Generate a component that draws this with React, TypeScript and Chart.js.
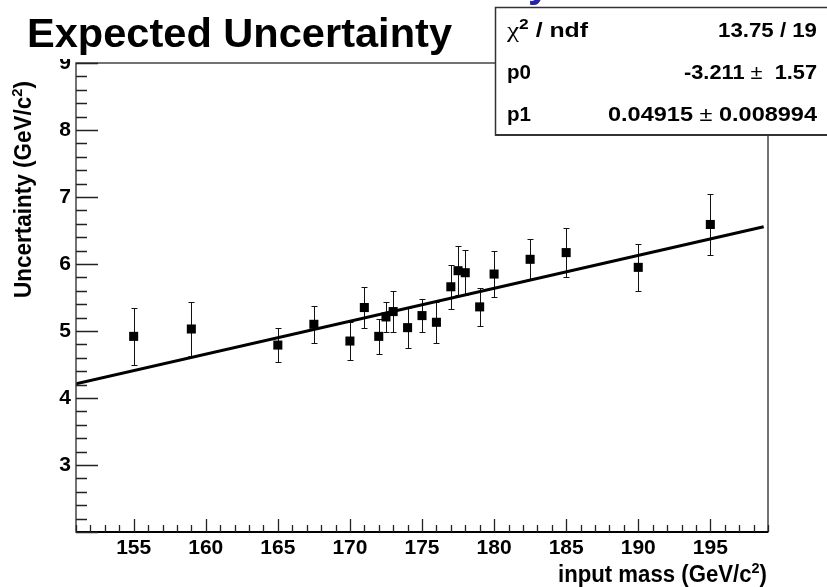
import React, { useEffect, useRef } from 'react';
import { Chart, registerables } from 'chart.js';

Chart.register(...registerables);

// ---- data ----
const masses = [155, 159, 165, 167.5, 170, 171, 172, 172.5, 173, 174, 175, 176, 177, 177.5, 178, 179, 180, 182.5, 185, 190, 195];
const uncertainties = [4.92, 5.03, 4.79, 5.10, 4.85, 5.35, 4.92, 5.21, 5.29, 5.05, 5.23, 5.13, 5.66, 5.90, 5.87, 5.36, 5.85, 6.07, 6.17, 5.95, 6.59];
const errors = [0.43, 0.41, 0.26, 0.28, 0.28, 0.30, 0.26, 0.22, 0.31, 0.30, 0.25, 0.31, 0.33, 0.37, 0.34, 0.28, 0.34, 0.30, 0.36, 0.35, 0.45];

const fitP0 = -3.211;
const fitP1 = 0.04915;
const fitRange = [151, 198.7];

const xRange = [151, 199];
const yRange = [2, 9];
const xTickValues = [155, 160, 165, 170, 175, 180, 185, 190, 195];
const yTickValues = [3, 4, 5, 6, 7, 8, 9];

const titleText = 'Expected Uncertainty';
const xTitleMain = 'input mass (GeV/c';
const yTitleMain = 'Uncertainty (GeV/c';
const unitTail = ')';
const superTwo = '2';
const statsLabels = ['p0', 'p1'];
const chiLabel = ['\u03C7', '2', ' / ndf'];
const statsValues = ['13.75 / 19', ['-3.211 ', '\u00B1', '  1.57'], ['0.04915 ', '\u00B1', ' 0.008994']];

const FONT = "'Liberation Sans', Arial, Helvetica, sans-serif";
const SERIF = "'Liberation Serif', 'DejaVu Serif', serif";

type Seg = { t: string; size: number; weight?: string; family?: string; dy?: number };

function drawRich(
  ctx: CanvasRenderingContext2D,
  segs: Seg[],
  x: number,
  y: number,
  width: number | null,
  align: 'left' | 'right',
  rotate = 0
) {
  ctx.save();
  const fontOf = (s: Seg) => `${s.weight ?? 'bold'} ${s.size}px ${s.family ?? FONT}`;
  const widths = segs.map((s) => {
    ctx.font = fontOf(s);
    return ctx.measureText(s.t).width;
  });
  const total = widths.reduce((a, b) => a + b, 0);
  const sx = width ? width / total : 1;
  ctx.translate(x, y);
  if (rotate) ctx.rotate(rotate);
  ctx.scale(sx, 1);
  ctx.textAlign = 'left';
  ctx.textBaseline = 'alphabetic';
  let cx = align === 'right' ? -total : 0;
  segs.forEach((s, i) => {
    ctx.font = fontOf(s);
    ctx.fillText(s.t, cx, s.dy ?? 0);
    cx += widths[i];
  });
  ctx.restore();
}

const errorBarPlugin = {
  id: 'errorBars',
  beforeDatasetsDraw(chart: any) {
    const { ctx, scales } = chart;
    const xs = scales.x;
    const ys = scales.y;
    ctx.save();
    ctx.strokeStyle = '#111';
    ctx.lineWidth = 1;
    masses.forEach((m, i) => {
      const px = Math.round(xs.getPixelForValue(m)) + 0.5;
      const top = Math.round(ys.getPixelForValue(uncertainties[i] + errors[i])) + 0.5;
      const bot = Math.round(ys.getPixelForValue(uncertainties[i] - errors[i])) + 0.5;
      ctx.beginPath();
      ctx.moveTo(px, top);
      ctx.lineTo(px, bot);
      ctx.moveTo(px - 3, top);
      ctx.lineTo(px + 3, top);
      ctx.moveTo(px - 3, bot);
      ctx.lineTo(px + 3, bot);
      ctx.stroke();
    });
    ctx.restore();
  },
};

const decorPlugin = {
  id: 'decor',
  afterDraw(chart: any) {
    const { ctx, chartArea, scales } = chart;
    const xs = scales.x;
    const ys = scales.y;
    const { left, right, top, bottom } = chartArea;
    ctx.save();

    // frame
    ctx.strokeStyle = '#444';
    ctx.lineWidth = 1.5;
    ctx.strokeRect(left, top, right - left, bottom - top);
    ctx.strokeStyle = '#000';
    ctx.lineWidth = 2;
    ctx.beginPath();
    ctx.moveTo(left, bottom);
    ctx.lineTo(right, bottom);
    ctx.stroke();

    // x ticks (inside)
    ctx.lineWidth = 1.3;
    ctx.strokeStyle = '#222';
    ctx.beginPath();
    for (let v = Math.ceil(xs.min); v <= xs.max; v++) {
      const px = Math.round(xs.getPixelForValue(v)) + 0.5;
      const len = v % 5 === 0 ? 13 : 7;
      ctx.moveTo(px, bottom);
      ctx.lineTo(px, bottom - len);
    }
    // y ticks (inside)
    const steps = Math.round((ys.max - ys.min) / 0.2);
    for (let k = 0; k <= steps; k++) {
      const v = ys.min + k * 0.2;
      const py = Math.round(ys.getPixelForValue(v)) + 0.5;
      const len = k % 5 === 0 ? 22 : 11;
      ctx.moveTo(left, py);
      ctx.lineTo(left + len, py);
    }
    ctx.stroke();

    // title pad (white box) and title
    ctx.fillStyle = '#fff';
    ctx.fillRect(0, 0, 480, 59);
    ctx.fillStyle = '#000';
    drawRich(ctx, [{ t: titleText, size: 40 }], 27, 47, 425, 'left');

    // partial blue glyph at the top edge
    ctx.fillStyle = '#2424a8';
    ctx.font = `bold 40px ${FONT}`;
    ctx.textAlign = 'left';
    ctx.textBaseline = 'alphabetic';
    ctx.fillText('y', 528, -3);

    // stats box
    ctx.fillStyle = '#fff';
    ctx.fillRect(495, 7, 340, 128);
    ctx.strokeStyle = '#333';
    ctx.lineWidth = 1.5;
    ctx.strokeRect(495.5, 7.5, 340, 127.5);
    ctx.lineWidth = 2;
    ctx.beginPath();
    ctx.moveTo(495, 135);
    ctx.lineTo(827, 135);
    ctx.stroke();
    ctx.fillStyle = '#000';
    const rowBase = [36.5, 79, 120.5];
    const SZ = 20;
    drawRich(
      ctx,
      [
        { t: chiLabel[0], size: SZ + 2, weight: 'normal', family: SERIF },
        { t: chiLabel[1], size: SZ * 0.7, dy: -8 },
        { t: chiLabel[2], size: SZ },
      ],
      507,
      rowBase[0],
      81,
      'left'
    );
    statsLabels.forEach((t, i) => drawRich(ctx, [{ t, size: SZ }], 507, rowBase[i + 1], 24, 'left'));
    const valueW = [99, 133, 209];
    statsValues.forEach((v, i) => {
      const segs: Seg[] = Array.isArray(v)
        ? [
            { t: v[0], size: SZ },
            { t: v[1], size: SZ, weight: 'normal' },
            { t: v[2], size: SZ },
          ]
        : [{ t: v, size: SZ }];
      drawRich(ctx, segs, 817, rowBase[i], valueW[i], 'right');
    });

    // axis titles
    const titleSegs = (main: string): Seg[] => [
      { t: main, size: 23 },
      { t: superTwo, size: 15, dy: -9 },
      { t: unitTail, size: 23 },
    ];
    drawRich(ctx, titleSegs(xTitleMain), 767, 581.5, 209, 'right');
    drawRich(ctx, titleSegs(yTitleMain), 31, 298, 217, 'left', -Math.PI / 2);

    ctx.restore();
  },
};

export default function App() {
  const canvasRef = useRef<HTMLCanvasElement | null>(null);

  useEffect(() => {
    const canvas = canvasRef.current;
    if (!canvas) return;
    const chart = new Chart(canvas, {
      type: 'scatter',
      data: {
        datasets: [
          {
            type: 'line',
            label: 'fit',
            data: fitRange.map((x) => ({ x, y: fitP0 + fitP1 * x })),
            borderColor: '#000',
            borderWidth: 3,
            pointRadius: 0,
            fill: false,
            order: 1,
          } as any,
          {
            type: 'scatter',
            label: 'uncertainty',
            data: masses.map((m, i) => ({ x: m, y: uncertainties[i] })),
            pointStyle: 'rect',
            pointRadius: 6.4,
            backgroundColor: '#000',
            borderColor: '#000',
            borderWidth: 0,
            order: 0,
          } as any,
        ],
      },
      options: {
        animation: false,
        responsive: false,
        devicePixelRatio: 1,
        layout: { padding: { left: 0, top: 63, right: 59, bottom: 0 } },
        plugins: {
          legend: { display: false },
          tooltip: { enabled: false },
        },
        scales: {
          x: {
            type: 'linear',
            min: xRange[0],
            max: xRange[1],
            afterBuildTicks: (s: any) => {
              s.ticks = xTickValues.map((value) => ({ value }));
            },
            afterFit: (s: any) => {
              s.height = 55;
            },
            grid: { display: false, drawTicks: false },
            border: { display: false },
            ticks: {
              font: { family: FONT, size: 21, weight: 'bold' as const },
              color: '#000',
              padding: 4,
              maxRotation: 0,
              autoSkip: false,
              callback: (v: any) => String(v),
            },
          },
          y: {
            type: 'linear',
            min: yRange[0],
            max: yRange[1],
            afterBuildTicks: (s: any) => {
              s.ticks = yTickValues.map((value) => ({ value }));
            },
            afterFit: (s: any) => {
              s.width = 76;
            },
            grid: { display: false, drawTicks: false },
            border: { display: false },
            ticks: {
              font: { family: FONT, size: 21, weight: 'bold' as const },
              color: '#000',
              padding: 5,
              autoSkip: false,
              callback: (v: any) => String(v),
            },
          },
        },
      },
      plugins: [errorBarPlugin, decorPlugin],
    });
    return () => chart.destroy();
  }, []);

  return (
    <div style={{ position: 'fixed', left: 0, top: 0, width: 827, height: 587, background: '#fff' }}>
      <canvas ref={canvasRef} width={827} height={587} style={{ display: 'block' }} />
    </div>
  );
}
